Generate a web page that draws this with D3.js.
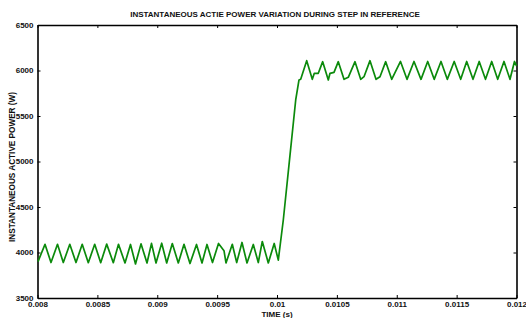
<!DOCTYPE html>
<html lang='en'>
	<head>
		<meta charset='UTF-8'>
		<title>Instantaneous Active Power</title>
		<style>
			body { margin: 0; background: #fff; }
			text { font-family: 'Liberation Sans', Arial, sans-serif; font-weight: bold; }
		</style>
	</head>
	<body>
		<svg id='graph' width='526' height='318'></svg>

		<script src='https://d3js.org/d3.v7.min.js'></script>
		<script>
			// time in seconds, power in W
			const times = [
				0.0080042, 0.0080626, 0.0081127, 0.0081670, 0.0082154, 0.0082697, 0.0083215, 0.0083733,
				0.0084242, 0.0084777, 0.0085278, 0.0085779, 0.0086330, 0.0086764, 0.0087307, 0.0087766,
				0.0088184, 0.0088643, 0.0089144, 0.0089520, 0.0089896, 0.0090372, 0.0090789, 0.0091257,
				0.0091758, 0.0092234, 0.0092735, 0.0093278, 0.0093737, 0.0094154, 0.0094614, 0.0095115,
				0.0095574, 0.0095741, 0.0096267, 0.0096635, 0.0097077, 0.0097495, 0.0098021, 0.0098438,
				0.0098772, 0.0099273, 0.0099766, 0.0100109, 0.0100526, 0.0101086, 0.0101562, 0.0101837,
				0.0101979, 0.0102480, 0.0102948, 0.0103115, 0.0103449, 0.0103816, 0.0104284, 0.0104426,
				0.0104760, 0.0105119, 0.0105595, 0.0105954, 0.0106514, 0.0106990, 0.0107265, 0.0107766,
				0.0108267, 0.0108601, 0.0109077, 0.0109578, 0.0110313, 0.0110856, 0.0111441, 0.0112025,
				0.0112585, 0.0113127, 0.0113695, 0.0114221, 0.0114797, 0.0115340, 0.0115841, 0.0116367,
				0.0116885, 0.0117411, 0.0117929, 0.0118430, 0.0118956, 0.0119457, 0.0119833, 0.0120000
			];
			const power = [
				3900, 4090, 3890, 4090, 3890, 4090, 3890, 4090,
				3888, 4090, 3888, 4092, 3888, 4090, 3885, 4088,
				3874, 4095, 3885, 4100, 3885, 4102, 3885, 4098,
				3885, 4090, 3879, 4088, 3885, 4088, 3890, 4099,
				4020, 3885, 4090, 3890, 4110, 3885, 4088, 3890,
				4121, 3885, 4099, 3917, 4357, 5071, 5676, 5896,
				5903, 6108, 5903, 5969, 5969, 6097, 5896, 5969,
				5980, 6097, 5903, 5925, 6097, 5903, 5932, 6108,
				5903, 5932, 6097, 5903, 6099, 5903, 6099, 5903,
				6099, 5903, 6099, 5903, 6099, 5903, 6099, 5903,
				6099, 5903, 6099, 5903, 6099, 5903, 6099, 6050
			];
			const xTicks = [0.008, 0.0085, 0.009, 0.0095, 0.01, 0.0105, 0.011, 0.0115, 0.012];
			const yTicks = [3500, 4000, 4500, 5000, 5500, 6000, 6500];

			const data = times.map((t, i) => ({ t: t, p: power[i] }));

			const mLeft = 37.5, mRight = 516.5, mTop = 25, mBottom = 298;
			const svg = d3.select('#graph');

			const xScale = d3.scaleLinear().domain([0.008, 0.012]).range([mLeft, mRight]);
			const yScale = d3.scaleLinear().domain([3500, 6500]).range([mBottom, mTop]);

			const fmtX = (d) => String(+d.toFixed(4));

			// axes on all four sides, ticks pointing inward
			const xBottom = d3.axisBottom(xScale).tickValues(xTicks).tickSizeInner(-3).tickSizeOuter(0).tickPadding(5).tickFormat(fmtX);
			const xTop = d3.axisTop(xScale).tickValues(xTicks).tickSizeInner(-3).tickSizeOuter(0).tickFormat('');
			const yLeft = d3.axisLeft(yScale).tickValues(yTicks).tickSizeInner(-3).tickSizeOuter(0).tickPadding(4).tickFormat(d3.format('d'));
			const yRight = d3.axisRight(yScale).tickValues(yTicks).tickSizeInner(-3).tickSizeOuter(0).tickFormat('');

			const gx = svg.append('g').attr('transform', `translate(0, ${mBottom})`).call(xBottom);
			svg.append('g').attr('transform', `translate(0, ${mTop})`).call(xTop);
			const gy = svg.append('g').attr('transform', `translate(${mLeft}, 0)`).call(yLeft);
			svg.append('g').attr('transform', `translate(${mRight}, 0)`).call(yRight);

			svg.selectAll('.domain').attr('stroke', '#000').attr('stroke-width', 1.6);
			svg.selectAll('.tick line').attr('stroke', '#000').attr('stroke-width', 1);
			svg.selectAll('.tick text').attr('font-size', 8).attr('fill', '#111')
				.attr('font-family', "'Liberation Sans', Arial, sans-serif").attr('font-weight', 'bold');

			gx.selectAll('.tick text').attr('dy', '0.5em');
			gy.selectAll('.tick text').attr('dy', '0.25em');

			svg.append('path')
				.datum(data)
				.attr('fill', 'none')
				.attr('stroke', '#0b8a0b')
				.attr('stroke-width', 1.7)
				.attr('stroke-linejoin', 'round')
				.attr('d', d3.line().x((d) => xScale(d.t)).y((d) => yScale(d.p)));

			svg.append('text')
				.attr('x', 275)
				.attr('y', 17)
				.attr('text-anchor', 'middle')
				.attr('font-size', 8)
				.attr('fill', '#111')
				.text('INSTANTANEOUS ACTIE POWER VARIATION DURING STEP IN REFERENCE');

			svg.append('text')
				.attr('x', 277)
				.attr('y', 317)
				.attr('text-anchor', 'middle')
				.attr('font-size', 8)
				.attr('fill', '#111')
				.text('TIME (s)');

			svg.append('text')
				.attr('transform', `translate(15, 167) rotate(-90)`)
				.attr('text-anchor', 'middle')
				.attr('font-size', 8.2)
				.attr('fill', '#111')
				.text('INSTANTANEOUS ACTIVE POWER (W)');
		</script>
	</body>
</html>
